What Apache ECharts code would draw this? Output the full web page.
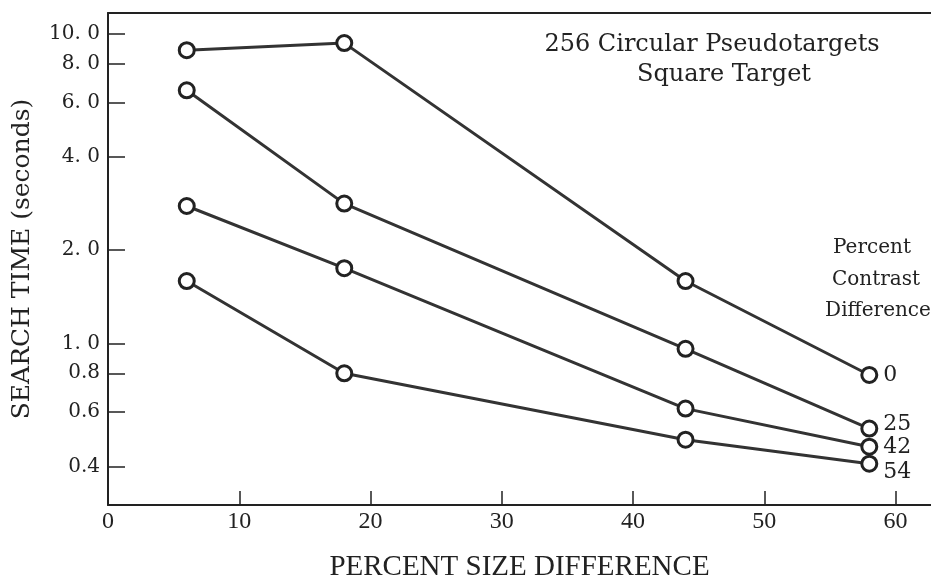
<!DOCTYPE html>
<html>
<head>
<meta charset="utf-8">
<script src="https://cdn.jsdelivr.net/npm/echarts@6/dist/echarts.min.js"></script>
<style>html,body{margin:0;padding:0;background:#fff;}#c{width:931px;height:582px;}</style>
</head>
<body>
<div id="c"></div>
<script>
// Data
const sizeDiff = [6, 18, 44, 58];
const contrast0  = [8.87, 9.35, 1.59, 0.79];
const contrast25 = [6.58, 2.83, 0.96, 0.53];
const contrast42 = [2.78, 1.75, 0.615, 0.463];
const contrast54 = [1.59, 0.80, 0.488, 0.408];
const seriesNames = ['0', '25', '42', '54'];
const xTickValues = [0, 10, 20, 30, 40, 50, 60];
const yTickValues = [0.4, 0.6, 0.8, 1, 2, 4, 6, 8, 10];
const yTickLabels = ['0.4', '0.6', '0.8', '1. 0', '2. 0', '4. 0', '6. 0', '8. 0', '10. 0'];

const ink = '#222';
const lineCol = '#333';
const allSeries = [contrast0, contrast25, contrast42, contrast54];
const endOffsets = [[6, 0], [6, -4], [6, 1], [6, 9]];

const chart = echarts.init(document.getElementById('c'), null, {renderer: 'canvas'});
chart.setOption({
  animation: false,
  backgroundColor: '#fff',
  grid: {left: 108, top: 13, bottom: 77, right: 0, containLabel: false, outerBoundsMode: 'none'},
  xAxis: [{
    type: 'value', min: 0, max: 62.7, interval: 10,
    axisLine: {show: true, lineStyle: {color: ink, width: 2}},
    axisTick: {show: true, inside: true, length: 14, lineStyle: {color: ink, width: 1.5}, customValues: xTickValues},
    axisLabel: {customValues: xTickValues, color: ink, fontFamily: 'Liberation Serif', fontSize: 24, margin: 5},
    splitLine: {show: false},
    name: 'PERCENT SIZE DIFFERENCE', nameLocation: 'middle', nameGap: 48,
    nameTextStyle: {color: ink, fontFamily: 'Liberation Serif', fontSize: 29}
  }, {
    type: 'value', position: 'top', min: 0, max: 62.7,
    axisLine: {show: true, lineStyle: {color: ink, width: 2}},
    axisTick: {show: false}, axisLabel: {show: false}, splitLine: {show: false}
  }],
  yAxis: {
    type: 'log', min: 0.3, max: 11.7, logBase: 10,
    axisLine: {show: true, lineStyle: {color: ink, width: 2}},
    axisTick: {show: true, inside: true, length: 17, lineStyle: {color: ink, width: 1.5}, customValues: yTickValues},
    axisLabel: {
      customValues: yTickValues, color: ink, fontFamily: 'DejaVu Serif', fontSize: 20, margin: 8,
      formatter: function (v) {
        const i = yTickValues.findIndex(t => Math.abs(t - v) < 1e-6);
        return i >= 0 ? yTickLabels[i] : '';
      }
    },
    splitLine: {show: false},
    name: 'SEARCH TIME (seconds)', nameLocation: 'middle', nameGap: 73, nameRotate: 90,
    nameTextStyle: {color: ink, fontFamily: 'DejaVu Serif', fontSize: 25}
  },
  graphic: [
    {type: 'text', x: 712, y: 45, style: {text: '256 Circular Pseudotargets', fill: ink, font: '24px "DejaVu Serif"', textAlign: 'center', textVerticalAlign: 'middle'}},
    {type: 'text', x: 724, y: 75, style: {text: 'Square Target', fill: ink, font: '24px "DejaVu Serif"', textAlign: 'center', textVerticalAlign: 'middle'}},
    {type: 'text', x: 872, y: 248, style: {text: 'Percent', fill: ink, font: '20px "DejaVu Serif"', textAlign: 'center', textVerticalAlign: 'middle'}},
    {type: 'text', x: 876, y: 280, style: {text: 'Contrast', fill: ink, font: '20px "DejaVu Serif"', textAlign: 'center', textVerticalAlign: 'middle'}},
    {type: 'text', x: 878, y: 311, style: {text: 'Difference', fill: ink, font: '20px "DejaVu Serif"', textAlign: 'center', textVerticalAlign: 'middle'}}
  ],
  series: allSeries.map((vals, k) => ({
    type: 'line', name: seriesNames[k],
    data: sizeDiff.map((x, i) => [x, vals[i]]),
    symbol: 'circle', symbolSize: 15,
    itemStyle: {color: '#fff', borderColor: ink, borderWidth: 3},
    lineStyle: {color: lineCol, width: 3},
    z: 3,
    endLabel: {show: true, formatter: seriesNames[k], color: ink, fontFamily: 'DejaVu Serif', fontSize: 22, offset: endOffsets[k], distance: 8}
  }))
});
</script>
</body>
</html>
